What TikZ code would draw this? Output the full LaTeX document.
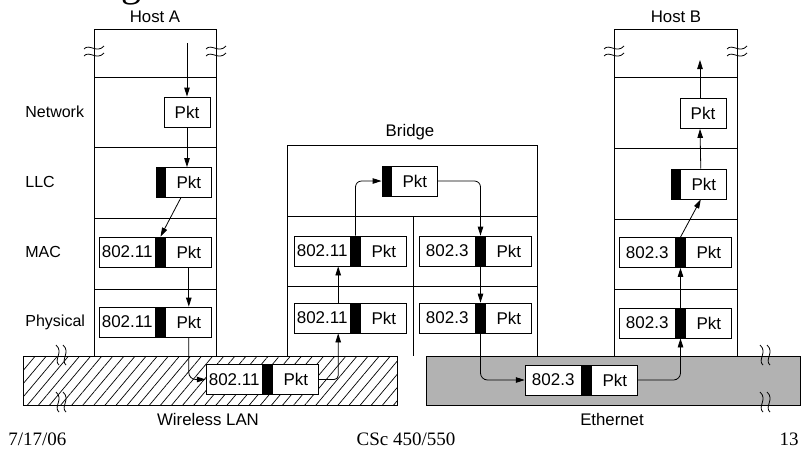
\documentclass[tikz,border=0pt]{standalone}
\usepackage{fontspec}
\setmainfont{Liberation Sans}
\newfontfamily\slidefont{Liberation Serif}
\usetikzlibrary{positioning,patterns.meta,arrows.meta}

\tikzset{
	hdr/.style={draw, fill=white, minimum width=56, minimum height=30, inner sep=0pt, font=\fontsize{17}{19}\selectfont},
	pkt/.style={hdr, minimum width=46},
	blk/.style={draw, fill=black, minimum width=9, minimum height=30, inner sep=0pt},
	lyr/.style={anchor=west, inner sep=0pt, font=\fontsize{16}{18}\selectfont},
	ttl/.style={inner sep=0pt, font=\fontsize{16.8}{18}\selectfont},
	foot/.style={inner sep=0pt, font=\slidefont\fontsize{19}{21}\selectfont},
	flow/.style={-{Triangle[length=9pt,width=5.5pt]}},
	brk/.pic={
		\draw (-10,-1) .. controls (-5,-7) and (3,4) .. (10,-4);
		\draw (-10,6) .. controls (-5,0) and (3,11) .. (10,3);
	}
}

\begin{document}
\begin{tikzpicture}[x=1pt, y=-1pt, line width=0.8pt]
	\useasboundingbox (0,0) rectangle (806,451);
	\node[anchor=base, inner sep=0pt, font=\slidefont\fontsize{40}{44}\selectfont] (cut) at (131,-4) {g};

	% hosts and bridge
	\draw (94,356) -- (94,29) -- (216,29) -- (216,356);
	\foreach \y in {77,147,218,289}
		\draw (94,\y) -- (216,\y);
	\draw (614,356) -- (614,29) -- (737,29) -- (737,356);
	\foreach \y in {77,148,219,289}
		\draw (614,\y) -- (737,\y);
	\draw (287,356) -- (287,145) -- (537,145) -- (537,356);
	\foreach \y in {216,286}
		\draw (287,\y) -- (537,\y);
	\draw (413,216) -- (413,356);
	\pic at (94,50) {brk};
	\pic at (216,50) {brk};
	\pic at (614,50) {brk};
	\pic at (737,50) {brk};

	\node[ttl] (hostA) at (155,17) {Host A};
	\node[ttl] (hostB) at (676,17) {Host B};
	\node[ttl] (bridge) at (410,132) {Bridge};
	\node[lyr] (lNet) at (25,112) {Network};
	\node[lyr] (lLlc) at (25,182) {LLC};
	\node[lyr] (lMac) at (25,252) {MAC};
	\node[lyr] (lPhy) at (25,322) {Physical};

	% the two networks
	\draw[pattern={Lines[angle=50,distance=8.5pt,line width=0.7pt]}] (23,356) rectangle (397,405);
	\draw[fill=gray!60] (426,356) rectangle (800,405);
	\pic[rotate=90] at (60,355) {brk};
	\pic[rotate=90] at (60,402) {brk};
	\pic[rotate=90] at (764,355) {brk};
	\pic[rotate=90] at (764,402) {brk};
	\node[ttl] (wlan) at (208,419) {Wireless LAN};
	\node[ttl] (ether) at (612,419) {Ethernet};

	% host A
	\node[pkt] (aNet) at (187,112) {Pkt};
	\node[blk] (aLlcB) at (160.5,182.5) {};
	\node[pkt, right=0pt of aLlcB] (aLlc) {Pkt};
	\node[blk] (aMacB) at (160.5,252) {};
	\node[hdr, left=0pt of aMacB] (aMacH) {802.11};
	\node[pkt, right=0pt of aMacB] (aMac) {Pkt};
	\node[blk] (aPhyB) at (160.5,322) {};
	\node[hdr, left=0pt of aPhyB] (aPhyH) {802.11};
	\node[pkt, right=0pt of aPhyB] (aPhy) {Pkt};

	% wireless LAN frame
	\node[blk] (wB) at (267.5,379.5) {};
	\node[hdr, left=0pt of wB] (wHdr) {802.11};
	\node[pkt, right=0pt of wB] (wPkt) {Pkt};

	% bridge
	\node[blk] (bTopB) at (386.5,181) {};
	\node[pkt, right=0pt of bTopB] (bTop) {Pkt};
	\node[blk] (bMacLB) at (355.5,251) {};
	\node[hdr, left=0pt of bMacLB] (bMacLH) {802.11};
	\node[pkt, right=0pt of bMacLB] (bMacL) {Pkt};
	\node[blk] (bPhyLB) at (355.5,318) {};
	\node[hdr, left=0pt of bPhyLB] (bPhyLH) {802.11};
	\node[pkt, right=0pt of bPhyLB] (bPhyL) {Pkt};
	\node[blk] (bMacRB) at (480.5,251) {};
	\node[hdr, left=0pt of bMacRB] (bMacRH) {802.3};
	\node[pkt, right=0pt of bMacRB] (bMacR) {Pkt};
	\node[blk] (bPhyRB) at (480.5,318) {};
	\node[hdr, left=0pt of bPhyRB] (bPhyRH) {802.3};
	\node[pkt, right=0pt of bPhyRB] (bPhyR) {Pkt};

	% ethernet frame
	\node[blk] (eB) at (586.5,380) {};
	\node[hdr, left=0pt of eB] (eHdr) {802.3};
	\node[pkt, right=0pt of eB] (ePkt) {Pkt};

	% host B
	\node[pkt] (bNet) at (703,113.5) {Pkt};
	\node[blk] (hLlcB) at (675.5,184) {};
	\node[pkt, right=0pt of hLlcB] (hLlc) {Pkt};
	\node[blk] (hMacB) at (680.5,252.5) {};
	\node[hdr, left=0pt of hMacB] (hMacH) {802.3};
	\node[pkt, right=0pt of hMacB] (hMac) {Pkt};
	\node[blk] (hPhyB) at (680.5,323) {};
	\node[hdr, left=0pt of hPhyB] (hPhyH) {802.3};
	\node[pkt, right=0pt of hPhyB] (hPhy) {Pkt};

	% packet path
	\coordinate (aTop) at (187,43);
	\coordinate (hTop) at (703,60);
	\draw[flow] (aTop) -- (aNet.north);
	\draw[flow] (aNet.south) -- (aNet.south |- aLlc.north);
	\draw[flow] ([xshift=-8]aLlc.south) -- (aMacB.north);
	\draw[flow] (aMac.south) -- (aPhy.north);
	\draw[flow, rounded corners=7] (aPhy.south) |- (wHdr.west);
	\draw[flow, rounded corners=4] (wPkt.east) -| ([xshift=16]bPhyLH.south);
	\draw[flow] ([xshift=16]bPhyLH.north) -- ([xshift=16]bMacLH.south);
	\draw[flow, rounded corners=6] (bMacLB.north) |- (bTopB.west);
	\draw[flow, rounded corners=6] (bTop.east) -| (bMacRB.north);
	\draw[flow] (bMacRB.south) -- (bPhyRB.north);
	\draw[flow, rounded corners=7] (bPhyRB.south) |- (eHdr.west);
	\draw[flow, rounded corners=7] (ePkt.east) -| (hPhyB.south);
	\draw[flow] (hPhyB.north) -- (hMacB.south);
	\draw[flow] (hMacB.north) -- ([xshift=-3]hLlc.south);
	\draw[flow] ([xshift=-3]hLlc.north) -- ([xshift=-3]bNet.south);
	\draw[flow] ([xshift=-3]bNet.north) -- ([xshift=-3]hTop);

	% slide footer
	\node[foot, anchor=west] (date) at (8,439) {7/17/06};
	\node[foot] (course) at (406,439) {CSc 450/550};
	\node[foot] (page) at (789,439) {13};
\end{tikzpicture}
\end{document}
